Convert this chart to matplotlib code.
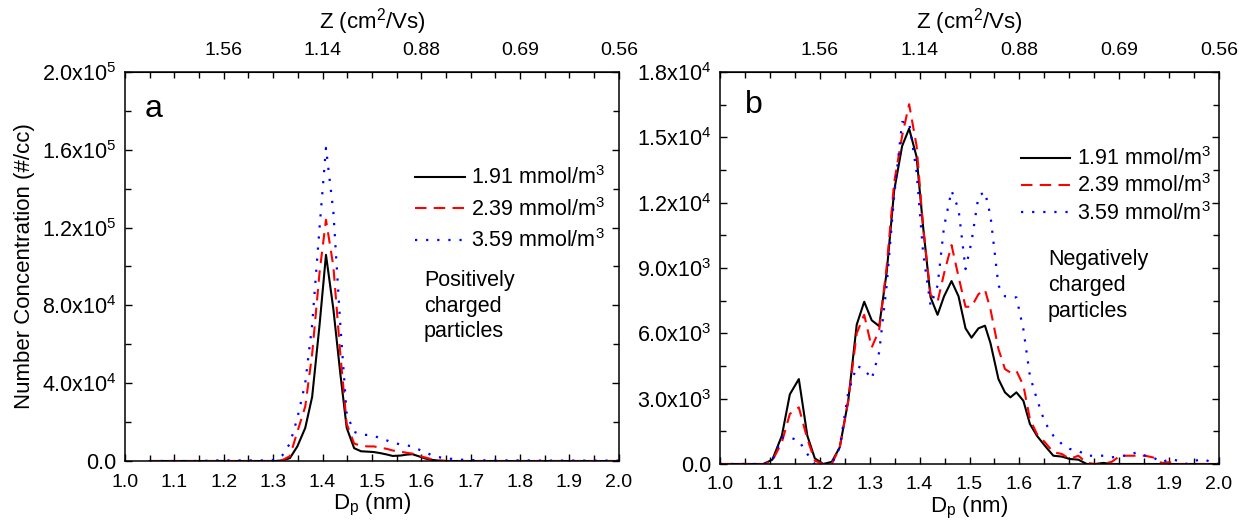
import numpy as np
import matplotlib
matplotlib.use('Agg')
import matplotlib.pyplot as plt
from matplotlib.ticker import MultipleLocator, FuncFormatter

plt.rcParams['font.family'] = ['Liberation Sans', 'DejaVu Sans']
plt.rcParams['mathtext.fontset'] = 'custom'
plt.rcParams['mathtext.rm'] = 'Liberation Sans'
plt.rcParams['mathtext.it'] = 'Liberation Sans:italic'
plt.rcParams['mathtext.bf'] = 'Liberation Sans:bold'

# diameter channels (nm)
dp = [1.000, 1.017, 1.033, 1.050, 1.067, 1.087, 1.105, 1.124, 1.140, 1.158,
      1.175, 1.190, 1.207, 1.224, 1.240, 1.257, 1.274, 1.289, 1.304, 1.319,
      1.334, 1.349, 1.365, 1.379, 1.394, 1.407, 1.422, 1.436, 1.449, 1.464,
      1.478, 1.492, 1.504, 1.518, 1.531, 1.542, 1.558, 1.571, 1.582, 1.594,
      1.608, 1.621, 1.635, 1.651, 1.668, 1.685, 1.701, 1.718, 1.735, 1.752,
      1.768, 1.785, 1.802, 1.818, 1.835, 1.852, 1.868, 1.885, 1.902, 1.918,
      1.935, 1.952, 1.968, 1.985, 2.000]

labels = ['1.91 mmol/m$^3$', '2.39 mmol/m$^3$', '3.59 mmol/m$^3$']

# panel a: positively charged
pos_191 = [0, 0, 0, 0, 0, 0, 0, 0, 0, 0,
           0, 0, 0, 0, 0, 0, 0, 0, 0, 300,
           1500, 7500, 17000, 33000, 70000, 106000, 78000, 45000, 17000, 6600,
           5000, 4800, 4600, 4000, 3300, 2600, 2800, 3300, 3500, 2500,
           1300, 600, 200, 0, 0, 0, 0, 0, 0, 0,
           0, 0, 0, 0, 0, 0, 0, 0, 0, 0,
           0, 0, 0, 0, 0]
pos_239 = [0, 0, 0, 0, 0, 0, 0, 0, 0, 0,
           0, 0, 0, 0, 0, 0, 0, 0, 0, 500,
           2500, 15000, 28000, 55000, 97000, 124000, 100000, 55000, 19000, 9000,
           7800, 7500, 7500, 6800, 6200, 5400, 4800, 4200, 3800, 2800,
           1800, 900, 300, 0, 0, 0, 0, 0, 0, 0,
           0, 0, 0, 0, 0, 0, 0, 0, 0, 0,
           0, 0, 0, 0, 0]
pos_359 = [0, 0, 0, 0, 0, 0, 0, 0, 0, 0,
           300, 300, 300, 300, 300, 300, 300, 300, 600, 3000,
           9000, 22000, 40000, 70000, 120000, 161000, 128000, 70000, 24000, 15000,
           13500, 13400, 13000, 11500, 10500, 9500, 8500, 8000, 7500, 6000,
           4500, 3000, 2000, 1300, 1000, 600, 500, 400, 300, 300,
           300, 300, 300, 300, 200, 200, 200, 200, 200, 200,
           200, 200, 200, 200, 200]

# panel b: negatively charged
neg_191 = [0, 0, 0, 0, 0, 0, 200, 1300, 3200, 3900,
           1300, 260, 0, 100, 765, 2900, 6400, 7450, 6600, 6330,
           8800, 12550, 14600, 15400, 14100, 10900, 7650, 6850, 7700, 8400,
           7700, 6230, 5800, 6230, 6350, 5550, 3900, 3290, 3060, 3290,
           2900, 1840, 1300, 840, 380, 340, 230, 200, 0, 0,
           50, 0, 0, 0, 0, 0, 0, 0, 0, 0,
           0, 0, 0, 0, 0]
neg_239 = [0, 0, 0, 0, 0, 0, 150, 1000, 2300, 2600,
           1150, 150, 0, 0, 765, 2900, 6000, 6850, 5350, 6150,
           9060, 12930, 15070, 16520, 14600, 10900, 7760, 7450, 8750, 10050,
           8600, 7220, 7220, 7800, 8000, 7100, 5280, 4360, 4200, 4280,
           3600, 2070, 1380, 1000, 540, 460, 230, 380, 50, 0,
           0, 100, 380, 380, 380, 380, 300, 50, 80, 0,
           0, 0, 0, 0, 0]
neg_359 = [0, 0, 0, 0, 0, 0, 150, 1220, 1220, 1070,
           460, 0, 0, 0, 765, 3290, 4500, 4360, 3900, 5130,
           8200, 12300, 15700, 15700, 13400, 9700, 7270, 8190, 10900, 12550,
           11700, 8950, 10200, 12300, 12500, 11400, 8190, 7700, 7650, 7650,
           6180, 4050, 2980, 1910, 1300, 920, 690, 610, 380, 380,
           380, 300, 380, 380, 540, 380, 300, 80, 230, 150,
           0, 150, 230, 80, 0]

z_pos = [1.2, 1.4, 1.6, 1.8, 2.0]
z_labels = ['1.56', '1.14', '0.88', '0.69', '0.56']

styles = [dict(color='black', ls='-', lw=1.5),
          dict(color='#ff0000', ls=(0, (5.5, 3.5)), lw=1.5),
          dict(color='#0000ff', ls=(0, (1, 4)), lw=1.6)]

TICK = 14
YTICK = 15.5
LAB = 16
LEG = 15.5


def sci_fmt(v, pos):
    if abs(v) < 1e-9:
        return '0.0'
    e = int(np.floor(np.log10(abs(v)) + 1e-9))
    m = v / 10 ** e
    return '%.1fx10$^{%d}$' % (m, e)


def setup(ax, ymax, ymajor):
    ax.set_xlim(1.0, 2.0)
    ax.set_ylim(0, ymax)
    ax.xaxis.set_major_locator(MultipleLocator(0.1))
    ax.xaxis.set_minor_locator(MultipleLocator(0.05))
    ax.yaxis.set_major_locator(MultipleLocator(ymajor))
    ax.yaxis.set_minor_locator(MultipleLocator(ymajor / 2))
    ax.yaxis.set_major_formatter(FuncFormatter(sci_fmt))
    ax.xaxis.set_major_formatter(FuncFormatter(lambda v, p: '%.1f' % v))
    ax.tick_params(which='both', direction='in', top=False, right=True, width=1.0)
    ax.tick_params(which='major', length=5)
    ax.tick_params(which='minor', length=4)
    ax.tick_params(axis='x', which='major', pad=9, labelsize=TICK)
    ax.tick_params(axis='y', which='major', pad=6, labelsize=YTICK)
    for s in ax.spines.values():
        s.set_linewidth(1.1)
    ax.set_xlabel(r'D$_{\rm p}$ (nm)', fontsize=LAB, labelpad=1)
    top = ax.secondary_xaxis('top')
    top.set_xticks(z_pos)
    top.set_xticklabels(z_labels)
    top.xaxis.set_minor_locator(MultipleLocator(0.05))
    top.tick_params(which='both', direction='in', labelsize=TICK, width=1.0)
    top.tick_params(which='major', length=5, pad=9)
    top.tick_params(which='minor', length=4)
    top.set_xlabel('Z (cm$^2$/Vs)', fontsize=LAB, labelpad=10)


fig = plt.figure(figsize=(12.42, 5.25), dpi=100)
ax1 = fig.add_axes([0.1006, 0.1219, 0.3977, 0.741])
ax2 = fig.add_axes([0.5797, 0.1162, 0.4018, 0.7467])

# panel a traces start at 1.05 nm
for ys, st, lb in zip([pos_191, pos_239, pos_359], styles, labels):
    ax1.plot(dp[3:], ys[3:], label=lb, **st)
for ys, st, lb in zip([neg_191, neg_239, neg_359], styles, labels):
    ax2.plot(dp, ys, label=lb, **st)

setup(ax1, 2.0e5, 4.0e4)
setup(ax2, 1.8e4, 3.0e3)
ax1.set_ylabel('Number Concentration (#/cc)', fontsize=LAB, labelpad=5)

ax1.text(0.04, 0.905, 'a', transform=ax1.transAxes, fontsize=23, va='center', ha='left')
ax2.text(0.05, 0.915, 'b', transform=ax2.transAxes, fontsize=23, va='center', ha='left')

ax1.legend(loc='upper left', bbox_to_anchor=(0.57, 0.78), frameon=False,
           fontsize=LEG, handlelength=2.3, handletextpad=0.3, labelspacing=0.4,
           borderaxespad=0)
ax2.legend(loc='upper left', bbox_to_anchor=(0.585, 0.83), frameon=False,
           fontsize=LEG, handlelength=2.3, handletextpad=0.3, labelspacing=0.2,
           borderaxespad=0)

ax1.text(0.605, 0.398, 'Positively\ncharged\nparticles', transform=ax1.transAxes,
         fontsize=LEG, va='center', ha='left', linespacing=1.3)
ax2.text(0.657, 0.455, 'Negatively\ncharged\nparticles', transform=ax2.transAxes,
         fontsize=LEG, va='center', ha='left', linespacing=1.3)

fig.savefig('out.png', dpi=100)
